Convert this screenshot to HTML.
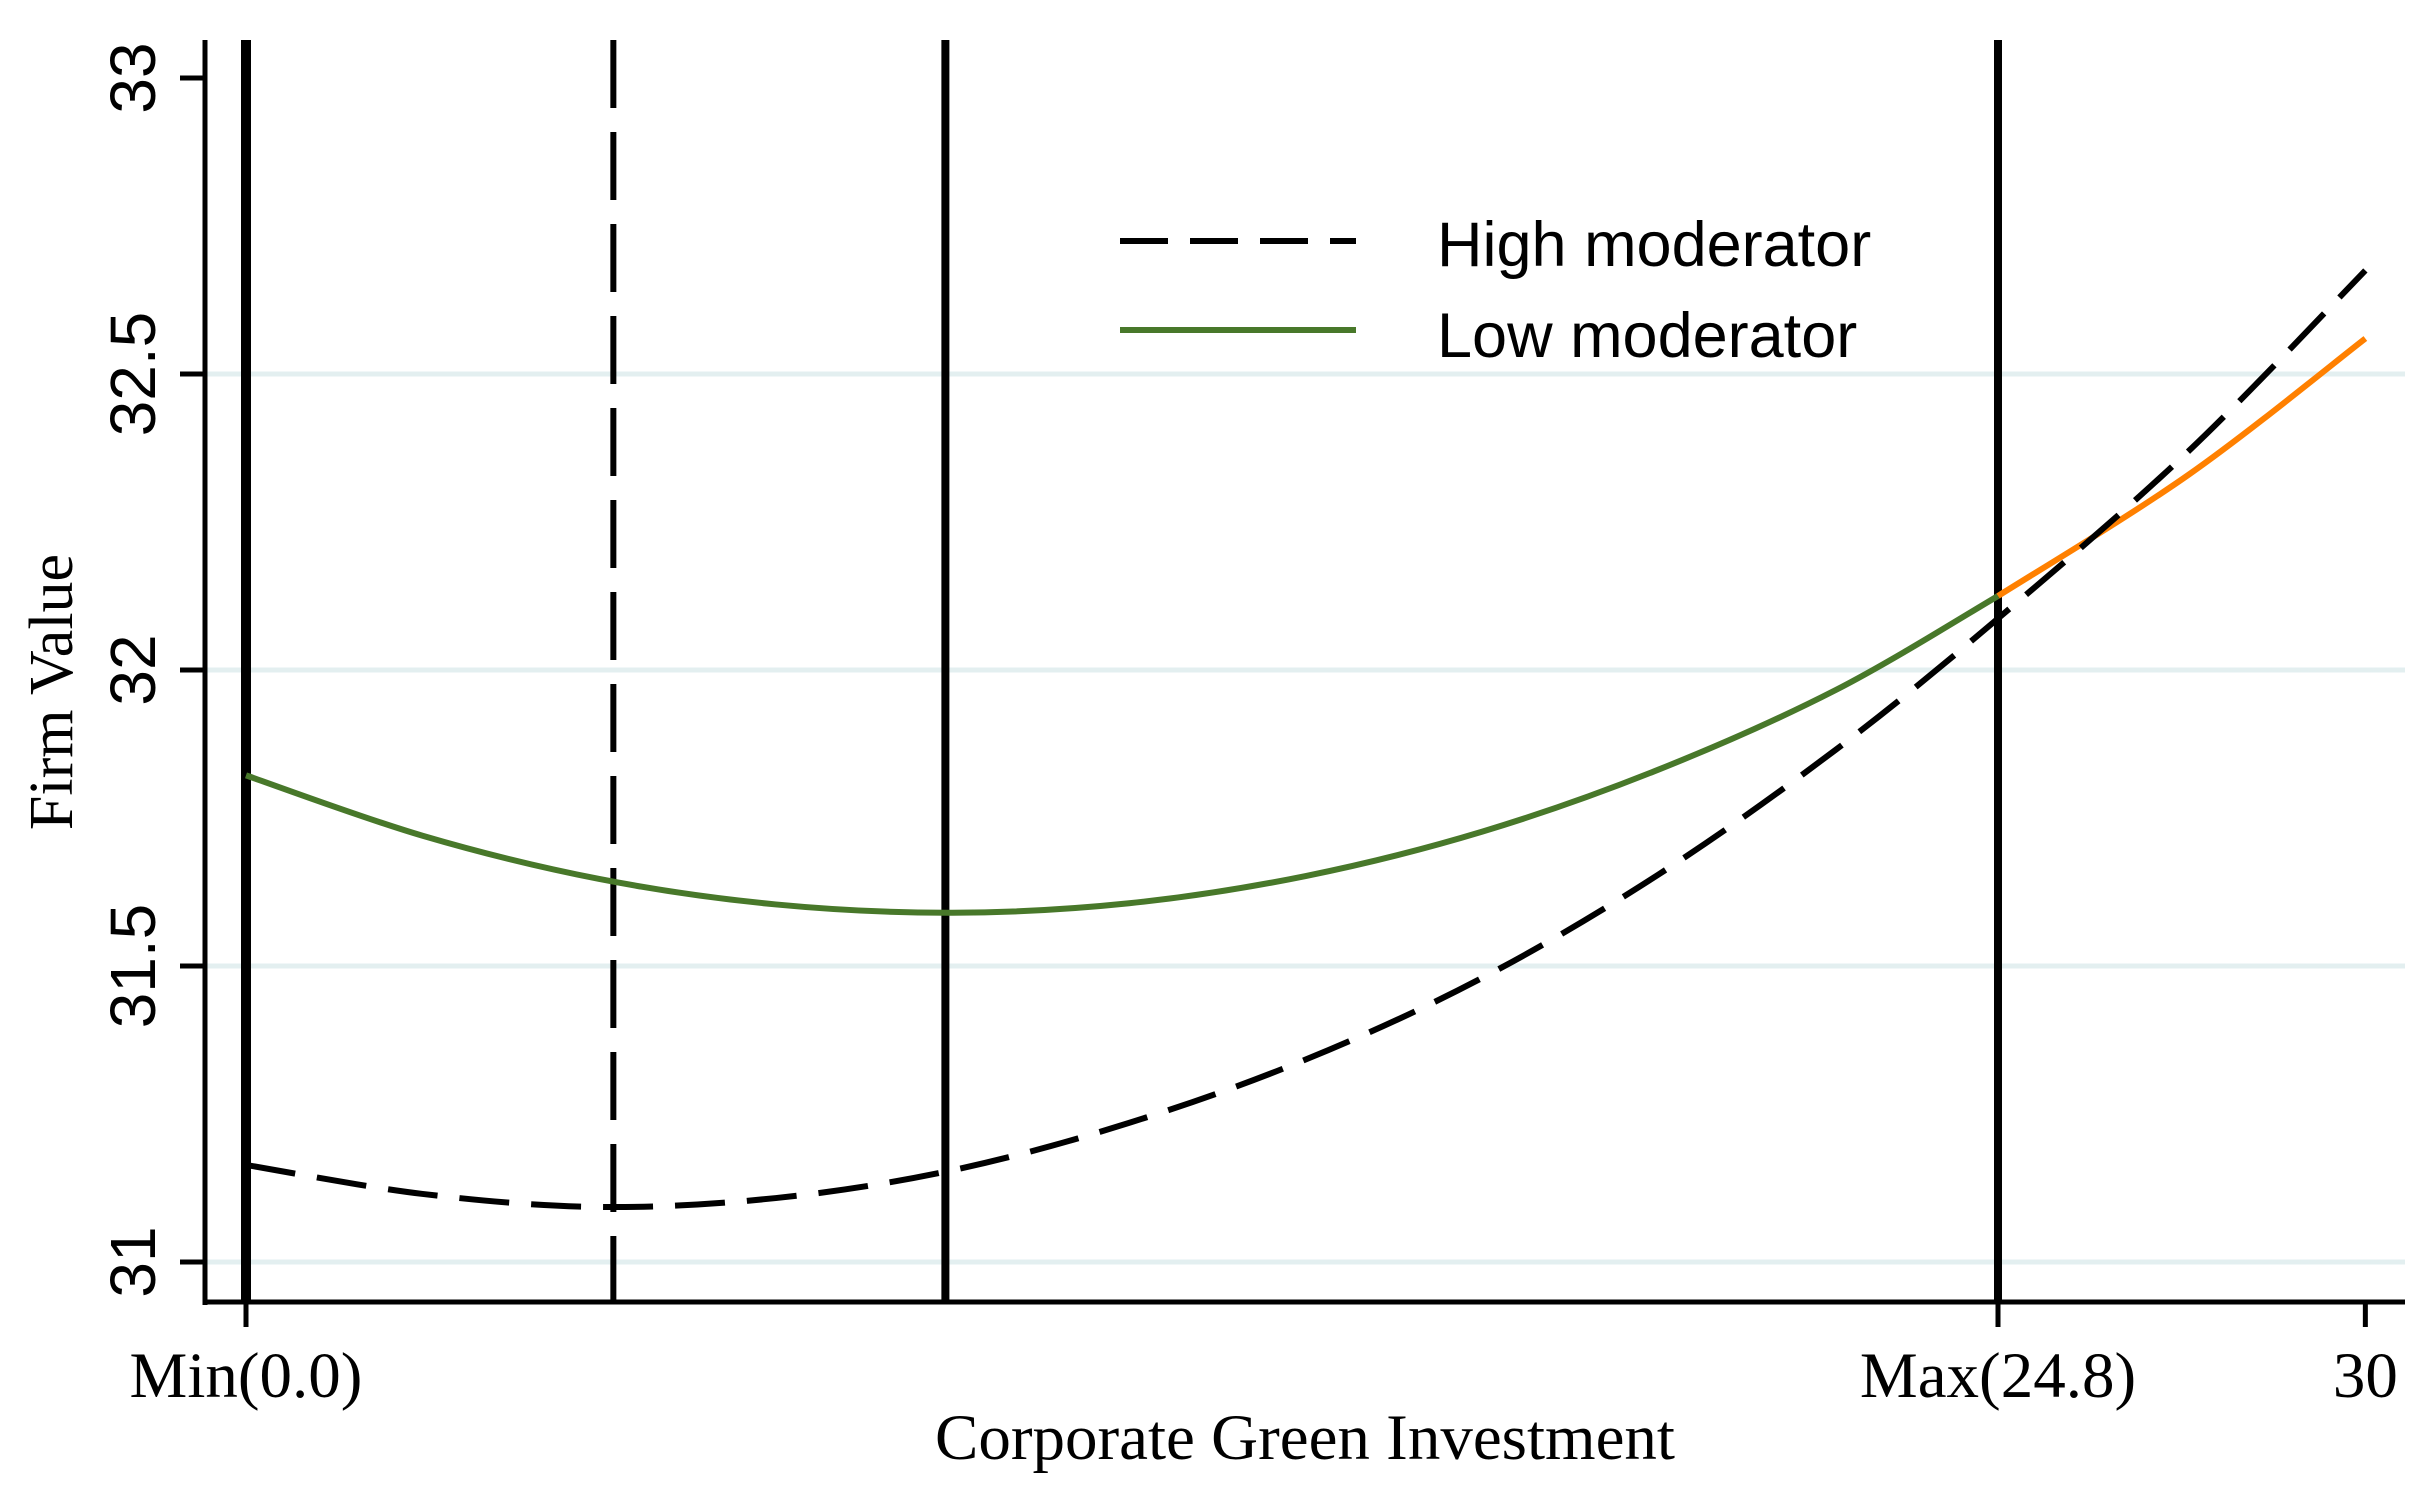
<!DOCTYPE html>
<html><head><meta charset="utf-8"><style>
html,body{margin:0;padding:0;background:#fff;}
svg{display:block;}
</style></head><body>
<svg id="chart" width="2430" height="1491" viewBox="0 0 2430 1491" xmlns="http://www.w3.org/2000/svg">
<g id="grid"></g>
<g id="refs"></g>
<g id="series"></g>
<g id="axes"></g>
<g>
  <line x1="1120" y1="241" x2="1356" y2="241" stroke="#000" stroke-width="6" stroke-dasharray="48,22"/>
  <text x="1437" y="266" font-family="Liberation Sans, sans-serif" font-size="63">High moderator</text>
  <line x1="1120" y1="330" x2="1356" y2="330" stroke="#48782a" stroke-width="6"/>
  <text x="1437" y="357" font-family="Liberation Sans, sans-serif" font-size="63">Low moderator</text>
</g>
<text transform="translate(72,692) rotate(-90)" text-anchor="middle" font-family="Liberation Serif, serif" font-size="62">Firm Value</text>
<text x="1305" y="1459" text-anchor="middle" font-family="Liberation Serif, serif" font-size="65">Corporate Green Investment</text>
</svg>
<script>
const xTickValues = [0, 24.8, 30];
const xTickLabels = ["Min(0.0)", "Max(24.8)", "30"];
const yTickValues = [31, 31.5, 32, 32.5, 33];
const yTickLabels = ["31", "31.5", "32", "32.5", "33"];
const gridValues = [31, 31.5, 32, 32.5];
const refSolid = [0, 9.9, 24.8];
const refDashed = [5.2];
const highX = [0, 2.5, 5, 7.5, 10, 12.5, 15, 17.5, 20, 22.5, 24.8, 27.5, 30];
const highY = [31.164, 31.115, 31.093, 31.108, 31.155, 31.235, 31.342, 31.48, 31.655, 31.865, 32.087, 32.37, 32.675];
const lowX = [0, 2.5, 5, 7.5, 10, 12.5, 15, 17.5, 20, 22.5, 24.8, 27.5, 30];
const lowY = [31.822, 31.72, 31.647, 31.604, 31.59, 31.606, 31.652, 31.727, 31.832, 31.966, 32.125, 32.33, 32.56];
const splitX = 24.8;

const NS = "http://www.w3.org/2000/svg";
const X0 = 246, XS = (1998 - 246) / 24.8;
const Y0 = 1262, YS = 592;
function xs(v){ return X0 + v * XS; }
function ys(v){ return Y0 - (v - 31) * YS; }
function mk(tag, attrs, parent){
  const e = document.createElementNS(NS, tag);
  for (const k in attrs) e.setAttribute(k, attrs[k]);
  parent.appendChild(e);
  return e;
}
function smoothPath(px, py){
  const p = px.map((x,i)=>[xs(x), ys(py[i])]);
  let d = "M" + p[0][0] + "," + p[0][1];
  for (let i=0;i<p.length-1;i++){
    const a = p[i-1]||p[i], b=p[i], c=p[i+1], e=p[i+2]||p[i+1];
    const c1=[b[0]+(c[0]-a[0])/6, b[1]+(c[1]-a[1])/6];
    const c2=[c[0]-(e[0]-b[0])/6, c[1]-(e[1]-b[1])/6];
    d += " C"+c1[0]+","+c1[1]+" "+c2[0]+","+c2[1]+" "+c[0]+","+c[1];
  }
  return d;
}
const grid = document.getElementById("grid");
gridValues.forEach(v=>{
  const l = mk("line",{x1:205,x2:2405,y1:ys(v),y2:ys(v),stroke:"#e3eff0","stroke-width":5},grid);
  
  
});
const refs = document.getElementById("refs");
refSolid.forEach(v=>{
  const l = mk("line",{x1:xs(v),x2:xs(v),y1:40,y2:1302,stroke:"#000","stroke-width":v===0?10:8},refs);
  
  
});
refDashed.forEach(v=>{
  const l = mk("line",{x1:xs(v),x2:xs(v),y1:40,y2:1302,stroke:"#000","stroke-width":6,"stroke-dasharray":"68,24"},refs);
  
  
});
const series = document.getElementById("series");
const si = lowX.indexOf(splitX);
const lg = mk("path",{d:smoothPath(lowX.slice(0,si+1), lowY.slice(0,si+1)),fill:"none",stroke:"#48782a","stroke-width":6},series);


const lo = mk("path",{d:smoothPath(lowX.slice(si), lowY.slice(si)),fill:"none",stroke:"#ff8000","stroke-width":6},series);


const hp = mk("path",{d:smoothPath(highX, highY),fill:"none",stroke:"#000","stroke-width":6,"stroke-dasharray":"50,22"},series);



const axes = document.getElementById("axes");
const ya = mk("line",{x1:205,x2:205,y1:40,y2:1305,stroke:"#000","stroke-width":5},axes);


const xa = mk("line",{x1:203,x2:2405,y1:1302,y2:1302,stroke:"#000","stroke-width":5},axes);


yTickValues.forEach((v,i)=>{
  const t = mk("line",{x1:180,x2:205,y1:ys(v),y2:ys(v),stroke:"#000","stroke-width":5},axes);
  
  
  const tx = mk("text",{transform:"translate(155,"+ys(v)+") rotate(-90)","text-anchor":"middle","font-family":"Liberation Sans, sans-serif","font-size":64},axes);
  tx.textContent = yTickLabels[i];
  
  
});
xTickValues.forEach((v,i)=>{
  const t = mk("line",{x1:xs(v),x2:xs(v),y1:1302,y2:1327,stroke:"#000","stroke-width":5},axes);
  
  
  const tx = mk("text",{x:xs(v),y:1397,"text-anchor":"middle","font-family":"Liberation Serif, serif","font-size":65},axes);
  tx.textContent = xTickLabels[i];
  
  
});
</script>
</body></html>
